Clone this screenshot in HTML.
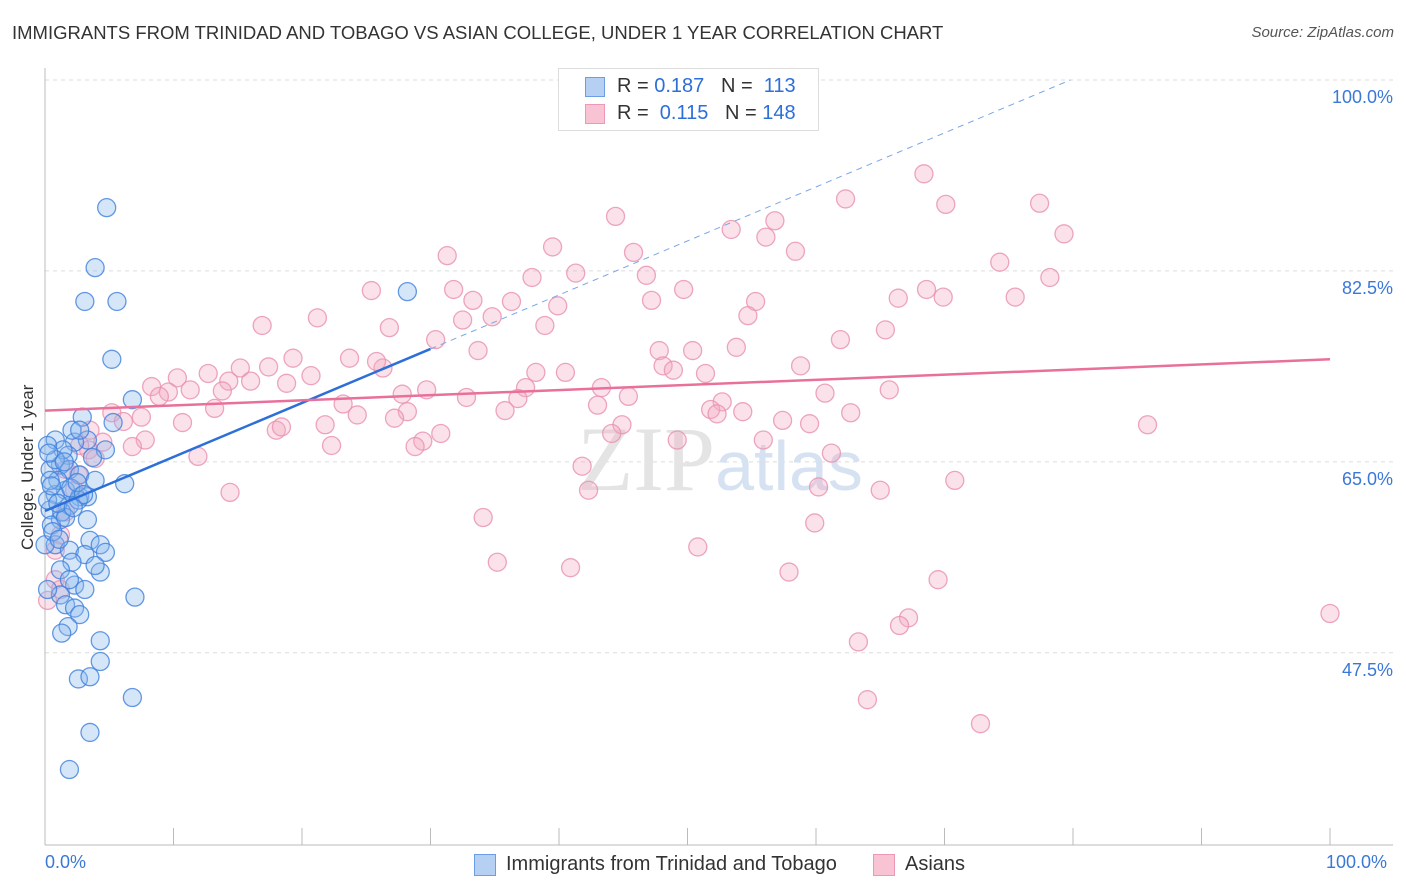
<!DOCTYPE html>
<html><head><meta charset="utf-8"><style>
body{margin:0;background:#fff;font-family:"Liberation Sans",sans-serif;}
#wrap{position:relative;width:1406px;height:892px;overflow:hidden;}
.t{position:absolute;white-space:nowrap;}
</style></head><body>
<div id="wrap">
<div class="t" style="left:12px;top:22px;font-size:18.5px;color:#333;">IMMIGRANTS FROM TRINIDAD AND TOBAGO VS ASIAN COLLEGE, UNDER 1 YEAR CORRELATION CHART</div>
<div class="t" style="right:12px;top:24px;font-size:15px;color:#555;font-style:italic;">Source: ZipAtlas.com</div>
<svg id="svg" width="1406" height="892" style="position:absolute;left:0;top:0"></svg>
</div>
<script>
const blueX=[4.8,3.9,3.1,5.6,28.2,5.2,6.8,2.9,5.3,4.7,6.2,3.3,2.3,1.8,0.8,1.2,1.9,2.7,3.9,1.6,0.8,2.7,0.4,1.2,1.9,3.3,0.8,1.9,3.5,4.3,4.7,3.1,2.1,1.2,2.3,3.1,1.2,4.3,7.0,1.6,2.3,2.7,1.8,1.3,4.3,4.3,2.6,3.5,6.8,3.5,1.9,0.4,0.2,0.5,1.0,1.4,2.1,2.7,3.7,3.3,2.6,0.8,0.2,0.4,1.3,1.6,3.9,0,0.2,1.9,0.5,1.0,2.0,2.5,3.0,0.3,1.5,2.2,0.6,1.1];
const blueY=[88.3,82.8,79.7,79.7,80.6,74.4,70.7,69.1,68.6,66.1,63.0,67.0,66.8,65.6,67.0,64.7,64.3,63.8,63.3,62.4,62.0,61.8,60.6,59.7,61.0,59.7,57.4,56.9,57.8,57.4,56.7,56.5,55.8,55.1,53.7,53.3,52.8,54.9,52.6,51.9,51.6,51.0,49.9,49.3,48.6,46.7,45.1,45.3,43.4,40.2,36.8,64.3,61.5,59.2,63.3,66.1,67.9,67.9,65.4,61.8,61.5,65.2,66.5,63.3,60.4,59.9,55.5,57.4,53.3,54.2,62.8,61.2,62.6,63.1,62.0,65.8,65.0,60.8,58.6,57.9];
const pinkX=[44.4,68.4,62.3,70.1,77.4,79.3,56.8,53.4,56.1,39.5,45.8,31.3,58.4,74.3,41.3,37.9,46.8,78.2,25.4,31.8,49.7,68.6,33.3,36.3,39.9,47.2,55.3,66.4,69.9,75.5,21.2,32.5,34.8,54.7,16.9,26.8,38.9,30.4,65.4,61.9,33.7,47.8,50.4,53.8,19.3,23.7,26.3,58.8,48.1,48.9,51.4,38.2,40.5,25.8,15.2,17.4,12.7,10.3,14.3,16.0,20.7,18.8,8.3,9.6,11.3,8.9,13.8,29.7,27.8,37.4,43.3,45.4,52.7,60.7,65.7,36.8,32.8,23.2,13.2,5.2,6.1,7.5,10.7,24.3,28.2,27.2,35.8,43.0,51.8,52.3,54.3,62.7,57.4,59.5,18.0,18.4,21.8,30.8,29.4,28.8,22.3,44.9,44.1,49.2,55.9,7.8,4.5,6.8,11.9,3.4,3.9,61.2,41.8,2.6,2.3,70.8,60.2,65.0,42.3,14.4,1.6,34.1,59.9,1.2,0.8,50.8,35.2,40.9,57.9,0.8,69.5,1.2,0.2,67.2,66.5,100,63.3,64.0,72.8,85.8,3.5,2.7,1.6];
const pinkY=[87.5,91.4,89.1,88.6,88.7,85.9,87.1,86.3,85.6,84.7,84.2,83.9,84.3,83.3,82.3,81.9,82.1,81.9,80.7,80.8,80.8,80.8,79.8,79.7,79.3,79.8,79.7,80.0,80.1,80.1,78.2,78.0,78.3,78.4,77.5,77.3,77.5,76.2,77.1,76.2,75.2,75.2,75.2,75.5,74.5,74.5,73.6,73.8,73.8,73.4,73.1,73.2,73.2,74.2,73.6,73.7,73.1,72.7,72.4,72.4,72.9,72.2,71.9,71.4,71.6,71.0,71.5,71.6,71.2,71.8,71.8,71.0,70.5,71.3,71.6,70.8,70.9,70.3,69.9,69.5,68.7,69.1,68.6,69.3,69.6,69.0,69.7,70.2,69.8,69.4,69.6,69.5,68.8,68.5,67.9,68.2,68.4,67.6,66.9,66.4,66.5,68.4,67.6,67.0,67.0,67.0,66.8,66.4,65.5,66.1,65.3,65.8,64.6,63.8,62.4,63.3,62.7,62.4,62.4,62.2,60.4,59.9,59.4,58.3,56.9,57.2,55.8,55.3,54.9,54.2,54.2,53.3,52.3,50.7,50.0,51.1,48.5,43.2,41.0,68.4,67.9,66.5,64.3];
const yTicks=[100,82.5,65,47.5];
const yTickLabels=["100.0%","82.5%","65.0%","47.5%"];
const blueTrend=[60.5,110.0];
const pinkTrend=[69.7,74.4];

const NS="http://www.w3.org/2000/svg";
const svg=document.getElementById('svg');
const X0=45,X1=1330,YTOP=80,PXPER=10.91;
const sx=v=>X0+(X1-X0)*v/100;
const sy=v=>YTOP+(100-v)*PXPER;
function mk(tag,attrs,parent){const e=document.createElementNS(NS,tag);for(const k in attrs)e.setAttribute(k,attrs[k]);(parent||svg).appendChild(e);return e;}

yTicks.forEach((t,i)=>{
  const g=mk('line',{x1:X0,x2:1393,y1:sy(t),y2:sy(t),stroke:'#dcdcdc','stroke-dasharray':'4,4'});
  
  
  const tx=mk('text',{x:1393,y:sy(t)+23,'text-anchor':'end','font-size':18,fill:'#3a78d8','font-family':'Liberation Sans'});
  tx.textContent=yTickLabels[i];
  
  
});
let a=mk('line',{x1:X0,x2:X0,y1:68,y2:845,stroke:'#bbb'});


a=mk('line',{x1:X0,x2:1393,y1:845,y2:845,stroke:'#bbb'});


for(let i=0;i<=10;i++){
  const tk=mk('line',{x1:sx(i*10),x2:sx(i*10),y1:828,y2:845,stroke:'#bbb'});
  
  
}
const wm=mk('text',{x:720,y:490,'text-anchor':'middle','font-size':92,fill:'#e4e4e4','font-family':'Liberation Serif'});
wm.innerHTML='ZIP<tspan fill="#d6e2f2" font-family="Liberation Sans" font-size="70">atlas</tspan>';



function pts(xs,ys,fill,stroke,name){
  xs.forEach((x,i)=>{
    const c=mk('circle',{cx:sx(x),cy:sy(ys[i]),r:9,fill:fill,'fill-opacity':0.35,stroke:stroke,'stroke-width':1.3,'stroke-opacity':0.8});
    
    
  });
}
pts(pinkX,pinkY,'#f4a8c0','#e890b0','asians-point');
pts(blueX,blueY,'#8ab6ee','#3f7fdc','trinidad-point');

const bY=x=>blueTrend[0]+(blueTrend[1]-blueTrend[0])*x/100;
const xEnd=(100-blueTrend[0])/(blueTrend[1]-blueTrend[0])*100;
let l=mk('line',{x1:sx(30),y1:sy(bY(30)),x2:sx(xEnd),y2:sy(100),stroke:'#7aa6e6','stroke-width':1,'stroke-dasharray':'6,5'});


l=mk('line',{x1:sx(0),y1:sy(bY(0)),x2:sx(30),y2:sy(bY(30)),stroke:'#2d6fd8','stroke-width':2.5});


l=mk('line',{x1:sx(0),y1:sy(pinkTrend[0]),x2:sx(100),y2:sy(pinkTrend[1]),stroke:'#e8709a','stroke-width':2.5});


</script>
<div class="t" style="left:18px;top:360px;width:20px;height:200px;"><div style="transform:rotate(-90deg);transform-origin:0 0;position:absolute;left:0;top:190px;font-size:17px;color:#333;">College, Under 1 year</div></div>
<div class="t" style="left:45px;top:852px;font-size:18px;color:#3a78d8;">0.0%</div>
<div class="t" style="left:1326px;top:852px;font-size:18px;color:#3a78d8;">100.0%</div>
<div class="t" style="left:558px;top:68px;width:259px;height:61px;border:1px solid #ddd;background:#fff;">
 <div style="position:absolute;left:26px;top:8px;width:18px;height:18px;background:#b6d0f4;border:1px solid #6b9ee6;"></div>
 <div style="position:absolute;left:58px;top:6px;font-size:20px;color:#333;">R = <span style="color:#2d6fd8">0.187</span>&nbsp;&nbsp;&nbsp;N = &nbsp;<span style="color:#2d6fd8">113</span></div>
 <div style="position:absolute;left:26px;top:35px;width:18px;height:18px;background:#f8c4d4;border:1px solid #ec98b6;"></div>
 <div style="position:absolute;left:58px;top:33px;font-size:20px;color:#333;">R = &nbsp;<span style="color:#2d6fd8">0.115</span>&nbsp;&nbsp;&nbsp;N = <span style="color:#2d6fd8">148</span></div>
</div>
<div class="t" style="left:474px;top:853px;"><span style="display:inline-block;width:20px;height:20px;background:#b6d0f4;border:1px solid #6b9ee6;vertical-align:middle;"></span><span style="font-size:20px;color:#333;margin-left:10px;vertical-align:middle;">Immigrants from Trinidad and Tobago</span></div>
<div class="t" style="left:873px;top:853px;"><span style="display:inline-block;width:20px;height:20px;background:#f8c4d4;border:1px solid #ec98b6;vertical-align:middle;"></span><span style="font-size:20px;color:#333;margin-left:10px;vertical-align:middle;">Asians</span></div>
</body></html>
